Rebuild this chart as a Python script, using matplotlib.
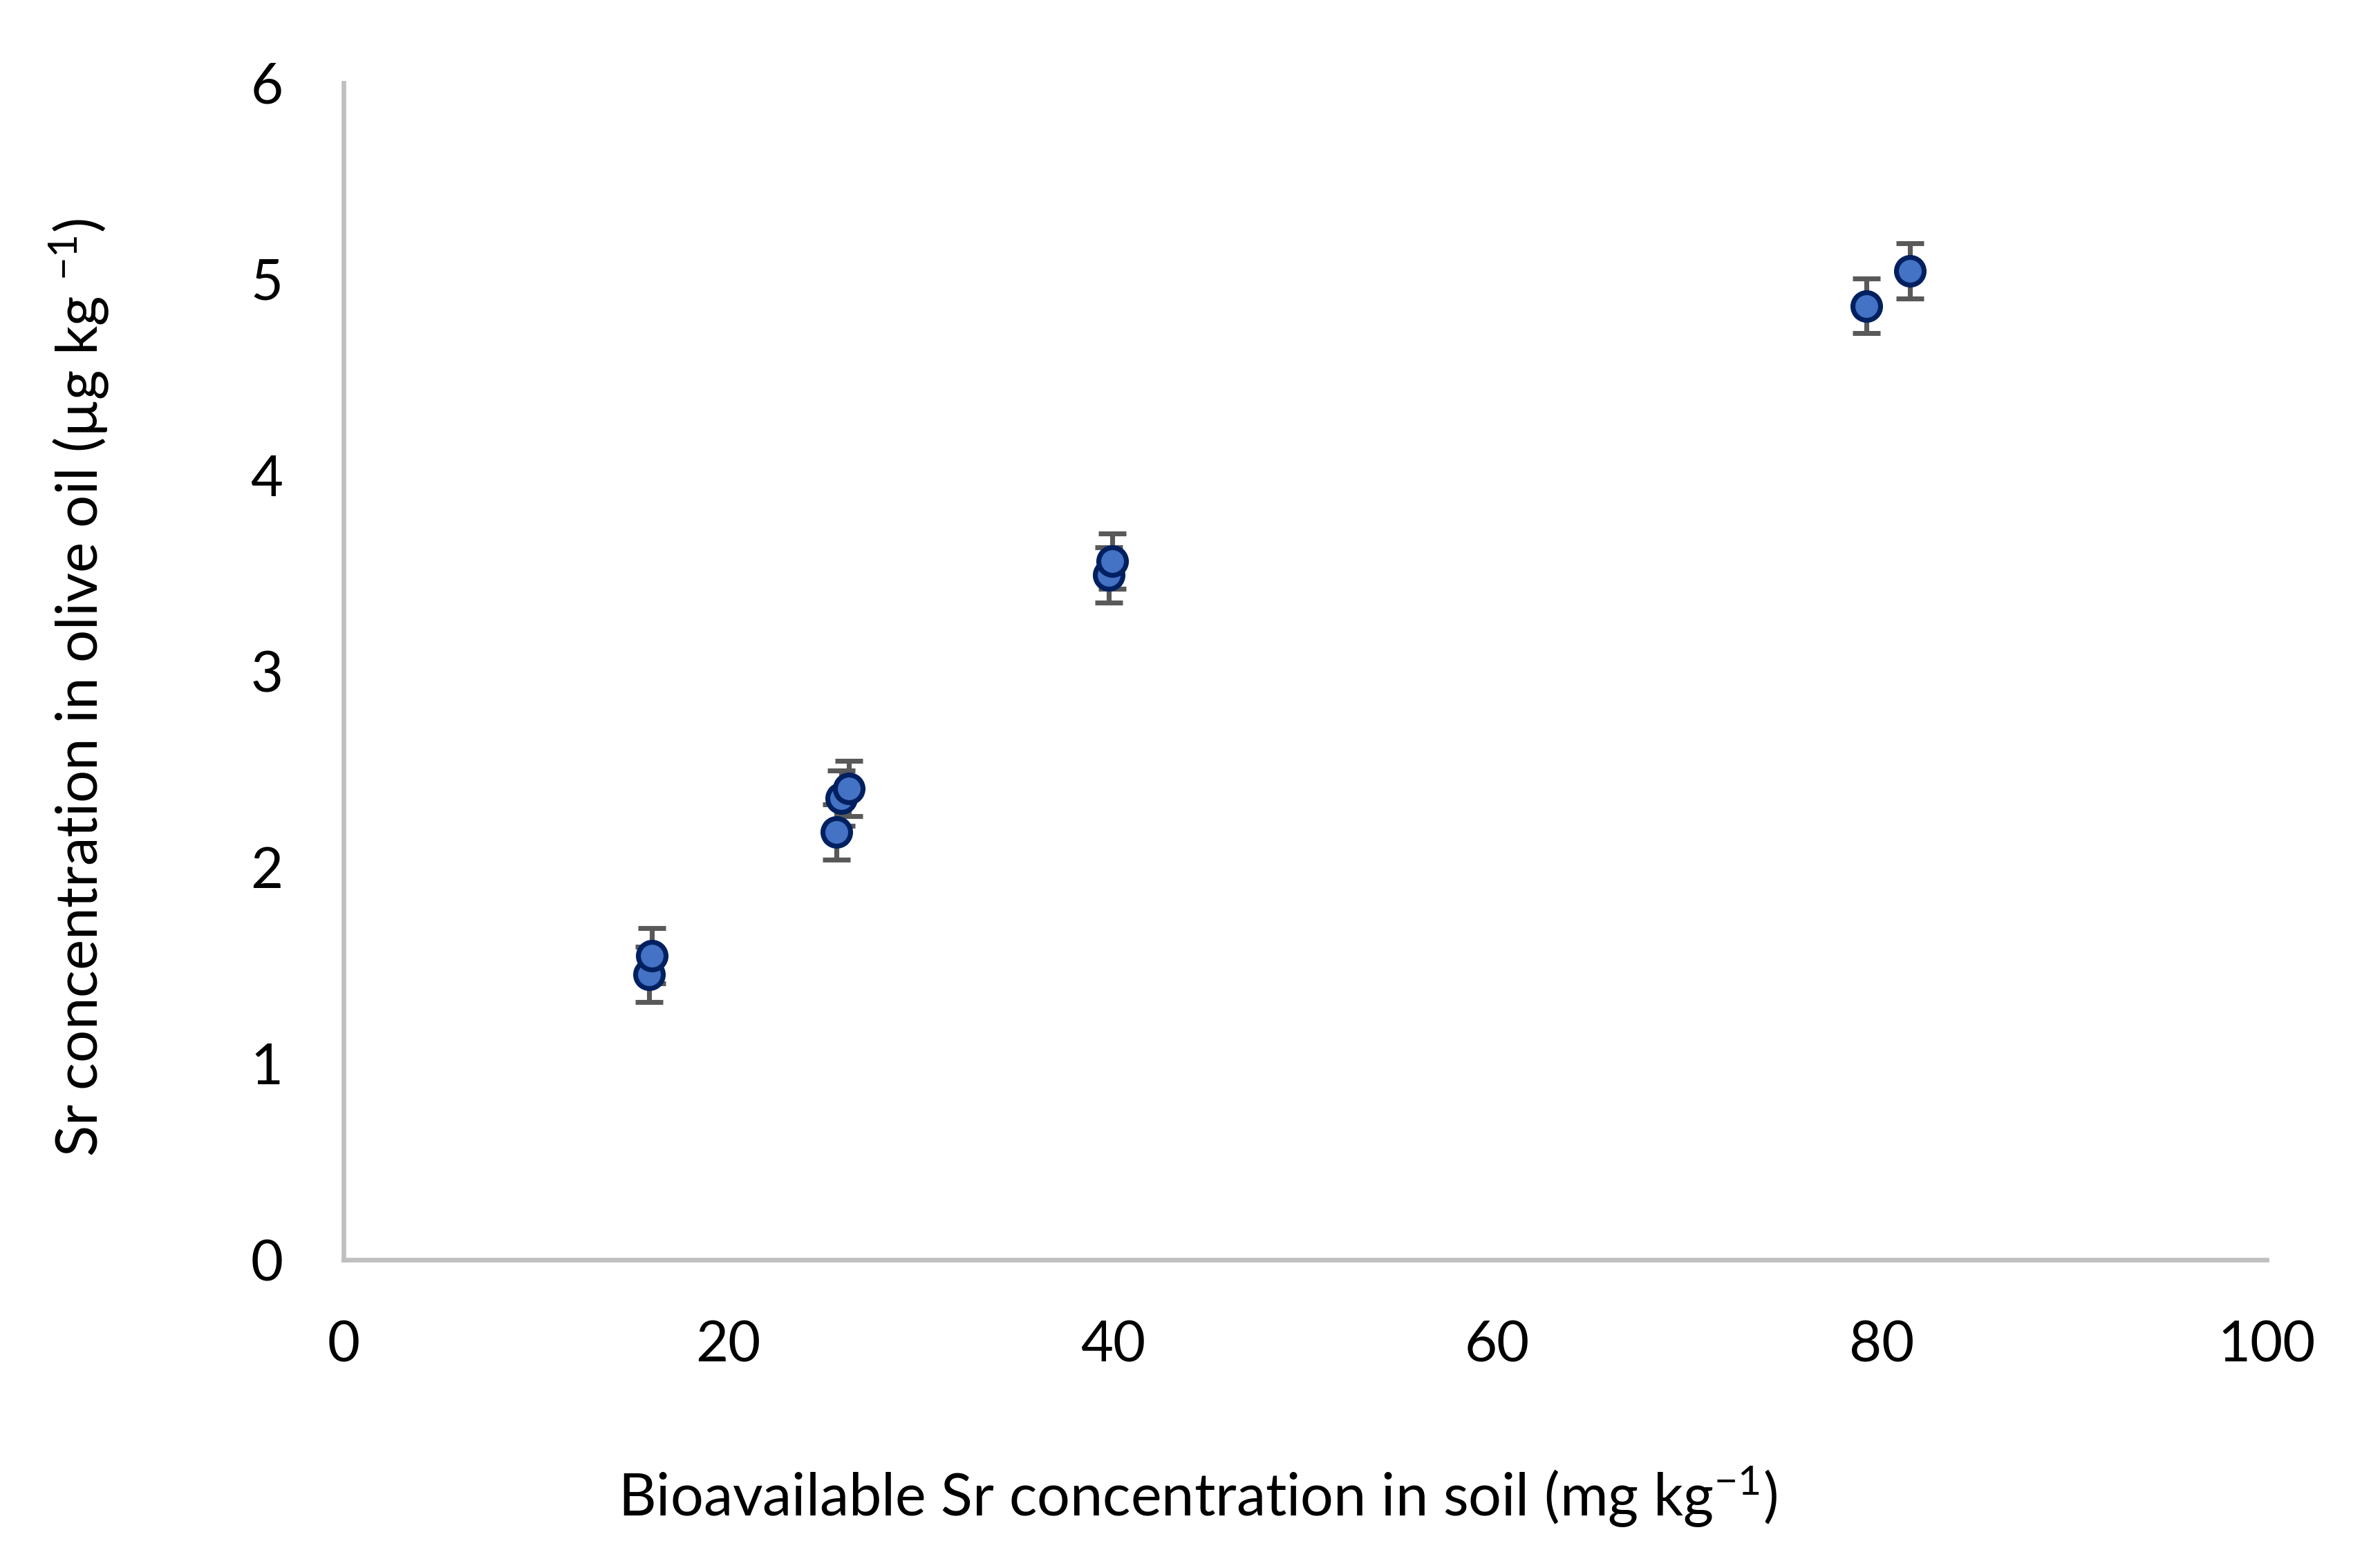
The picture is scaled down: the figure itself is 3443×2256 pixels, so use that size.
import matplotlib
matplotlib.use('Agg')
import matplotlib.pyplot as plt

plt.rcParams['font.family'] = ['Lato', 'DejaVu Sans']
plt.rcParams['mathtext.fontset'] = 'custom'
plt.rcParams['mathtext.rm'] = 'Lato'
plt.rcParams['mathtext.default'] = 'regular'

# values
soil_sr = [15.89, 16.02, 25.63, 25.88, 26.28, 39.79, 39.97, 79.19, 81.45]
oil_sr = [1.455, 1.551, 2.181, 2.354, 2.403, 3.492, 3.562, 4.863, 5.042]
oil_err = [0.14, 0.14, 0.14, 0.14, 0.14, 0.14, 0.14, 0.14, 0.14]

x_ticks = [0, 20, 40, 60, 80, 100]
y_ticks = [0, 1, 2, 3, 4, 5, 6]

fig = plt.figure(figsize=(3443 / 300, 2256 / 300), dpi=300)
ax = fig.add_axes([497 / 3443, 1 - 1823 / 2256, (3279 - 497) / 3443, (1823 - 120) / 2256])

ax.errorbar(soil_sr, oil_sr, yerr=oil_err, fmt='o', color='#595959',
            ecolor='#595959', elinewidth=1.7, capsize=4.7, capthick=1.7,
            markersize=9.6, markerfacecolor='#4472C4', markeredgecolor='#002060',
            markeredgewidth=1.7, zorder=3)

ax.set_xlim(0, 100)
ax.set_ylim(0, 6)
ax.set_xticks(x_ticks)
ax.set_yticks(y_ticks)
ax.tick_params(length=0, labelsize=19.5, pad=21)

for s in ['top', 'right']:
    ax.spines[s].set_visible(False)
for s in ['left', 'bottom']:
    ax.spines[s].set_color('#BFBFBF')
    ax.spines[s].set_linewidth(1.6)

fig.text(1732 / 3443, 0.040, r'Bioavailable Sr concentration in soil (mg kg$^{-1}$)',
         ha='center', va='center', fontsize=20.3)
fig.text(115 / 3443, 1 - 995 / 2256, r'Sr concentration in olive oil (µg kg $^{-1}$)',
         ha='center', va='center', rotation=90, fontsize=20.0)

fig.savefig('out.png', dpi=300)
